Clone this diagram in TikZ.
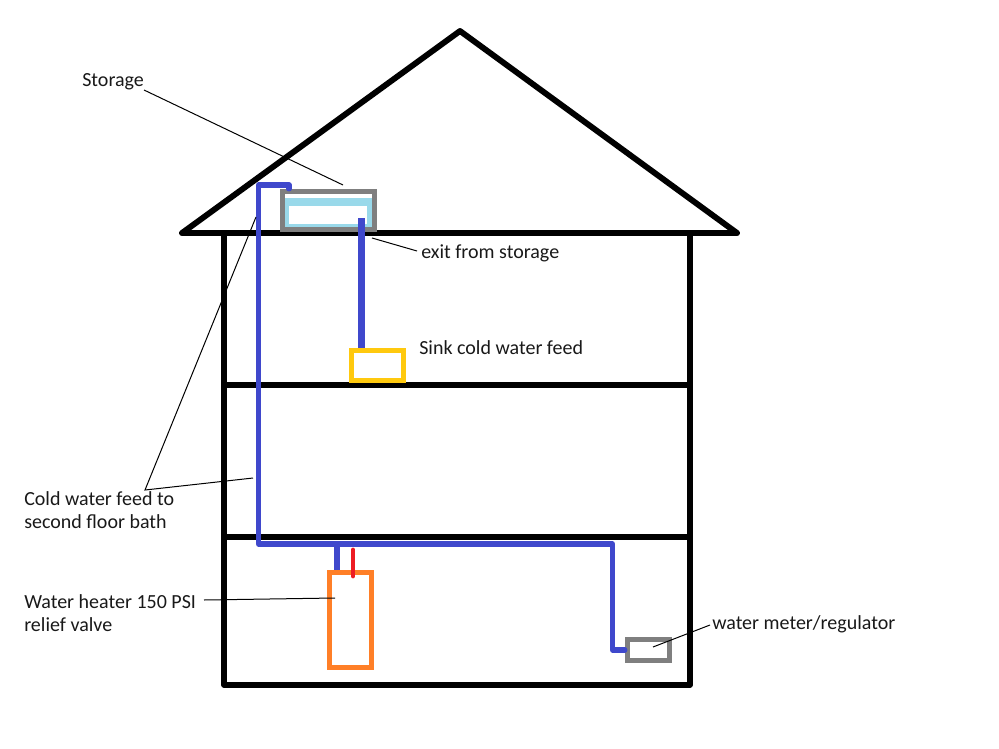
\documentclass[tikz,border=0pt]{standalone}
\usepackage{fontspec}
\setmainfont{Carlito}
\usetikzlibrary{positioning}

\definecolor{pipeblue}{HTML}{3F48CC}
\definecolor{hotred}{HTML}{ED1C24}
\definecolor{tankgrey}{HTML}{7F7F7F}
\definecolor{heaterorange}{HTML}{FF7F27}
\definecolor{sinkyellow}{HTML}{FFC90E}
\definecolor{waterblue}{HTML}{99D9EA}

\tikzset{
  wall/.style={draw=black,line width=4pt,line cap=round,line join=round},
  pipe/.style={draw=pipeblue,line width=3.9pt,line cap=round,line join=round},
  box/.style={rectangle,draw,line width=3.6pt,inner sep=0pt},
  leader/.style={draw=black,line width=0.75pt},
  note/.style={font=\fontsize{15}{17.5}\selectfont,align=left,inner sep=0pt,text=black!90}
}

\begin{document}
\begin{tikzpicture}[x=0.75pt,y=-0.75pt]
   \useasboundingbox (0,0) rectangle (999,749);
   % house
   \coordinate (eaveL) at (182,233);
   \coordinate (peak) at (460,31);
   \coordinate (eaveR) at (737,233);
   \coordinate (wallNW) at (224,233);
   \coordinate (wallSE) at (690,685);
   \coordinate (floorAL) at (224,385);
   \coordinate (floorAR) at (690,385);
   \coordinate (floorBL) at (224,537);
   \coordinate (floorBR) at (690,537);
   \draw[wall,line width=4.4pt] (eaveL) -- (peak) -- (eaveR) -- cycle;
   \draw[wall] (wallNW) rectangle (wallSE);
   \draw[wall] (floorAL) -- (floorAR);
   \draw[wall] (floorBL) -- (floorBR);

   % boxes
   \node[rectangle,fill=waterblue,minimum width=65.25pt,minimum height=23.25pt,inner sep=0pt] (water) at (328.5,213.5) {};
   \node[rectangle,fill=white,minimum width=58.5pt,minimum height=13.5pt,inner sep=0pt] (air) at (328,215) {};
   \node[box,draw=tankgrey,minimum width=69.4pt,minimum height=28.9pt] (storage) at (328.5,210.5) {};
   \node[box,draw=sinkyellow,minimum width=38.5pt,minimum height=22.5pt] (sink) at (377.5,365.5) {};
   \node[box,draw=heaterorange,minimum width=31.9pt,minimum height=71.6pt] (heater) at (350.5,620) {};
   \node[box,draw=tankgrey,minimum width=31.9pt,minimum height=16.1pt] (meter) at (648.5,650) {};

   % pipes
   \coordinate (riserBot) at (258.5,544);
   \coordinate (riserTop) at (258.5,185);
   \coordinate (riserEnd) at (289,185);
   \coordinate (mainEnd) at (612.5,544);
   \coordinate (mainLow) at (612.5,650);
   \coordinate (exitTop) at (361.5,218);
   \coordinate (heaterTee) at (337,544);
   \coordinate (redTop) at (353,550);
   \coordinate (redBot) at (353,576);
   \path[pipe] (riserEnd |- storage.north) -- (riserEnd) -- (riserTop) -- (riserBot) -- (mainEnd) -- (mainLow) -- (meter.west);
   \path[pipe,line cap=butt] (heaterTee) -- (heaterTee |- heater.north);
   \path[pipe,line width=5.4pt,line cap=butt] (exitTop) -- (exitTop |- sink.north);
   \draw[draw=hotred,line width=3.6pt,line cap=round] (redTop) -- (redBot);

   % labels
   \node[note,anchor=base west] (storageText) at (82,86) {Storage};
   \node[note,anchor=base west] (exitText) at (421,258) {exit from storage};
   \node[note,anchor=base west] (sinkText) at (419,354) {Sink cold water feed};
   \node[note,anchor=north west] (coldText) at (24,491) {Cold water feed to\\second floor bath};
   \node[note,anchor=north west] (heaterText) at (24,594) {Water heater 150 PSI\\relief valve};
   \node[note,anchor=base west] (meterText) at (712,629) {water meter/regulator};

   % leaders
   \coordinate (storageFrom) at (144,90);
   \coordinate (storageTo) at (343,185);
   \coordinate (exitFrom) at (417,251);
   \coordinate (exitTo) at (372,238);
   \coordinate (coldFrom) at (145,490);
   \coordinate (coldToA) at (256,217);
   \coordinate (coldToB) at (253,478);
   \coordinate (heaterFrom) at (204,600);
   \coordinate (heaterTo) at (335,598);
   \coordinate (meterFrom) at (710,625);
   \coordinate (meterTo) at (653,647);
   \path[leader] (storageFrom) -- (storageTo);
   \path[leader] (exitFrom) -- (exitTo);
   \path[leader] (coldToA) -- (coldFrom) -- (coldToB);
   \path[leader] (heaterFrom) -- (heaterTo);
   \path[leader] (meterFrom) -- (meterTo);
\end{tikzpicture}
\end{document}
